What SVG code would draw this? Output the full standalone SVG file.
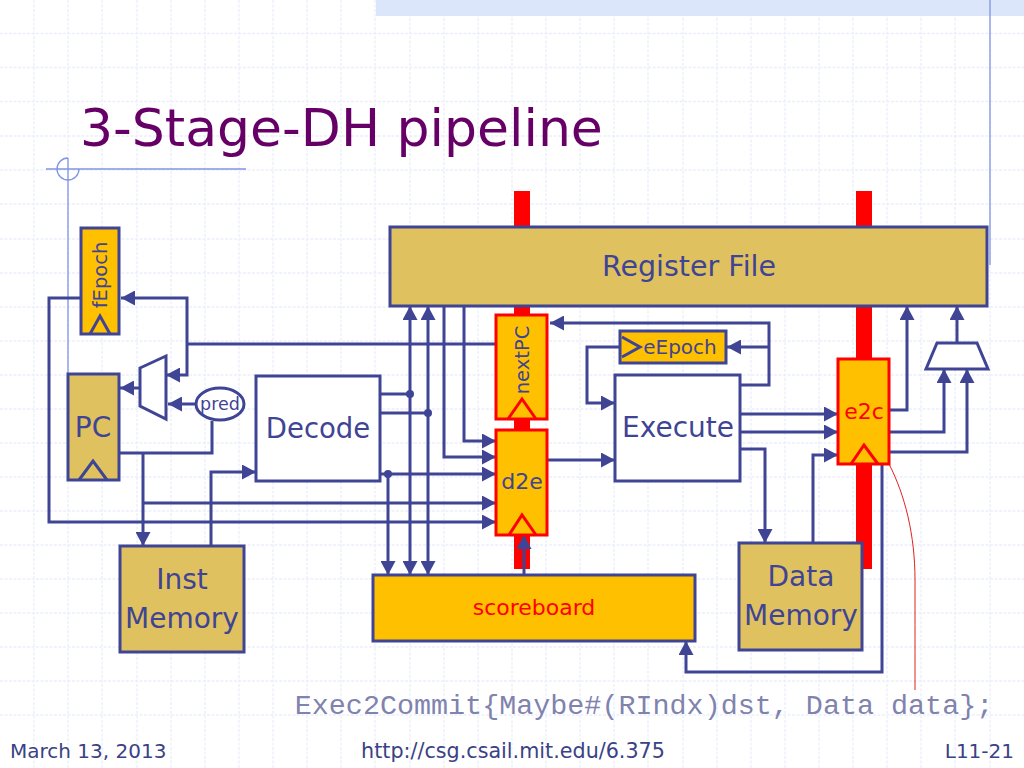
<svg xmlns="http://www.w3.org/2000/svg" width="1024" height="768" viewBox="0 0 1024 768">
<style>
text{font-family:"DejaVu Sans",sans-serif;fill:#3F4494;text-anchor:middle}
.grid line{stroke:#ECEEFB;stroke-width:1.3;stroke-dasharray:3 1.5}
.tpl{stroke:#7F94E4;stroke-width:1.3;fill:none}
.c{fill:none;stroke:#3F4494;stroke-width:3;stroke-linejoin:miter}
.a{marker-end:url(#ah)}
.r{stroke:#FF0000;stroke-width:3;fill:#FFC000}
.o{stroke:#3F4494;stroke-width:3;fill:#FFC000}
.g{stroke:#3F4494;stroke-width:3;fill:#DFC25F}
.w{stroke:#3F4494;stroke-width:3;fill:#fff}
.tri{fill:none;stroke:#3F4494;stroke-width:3}
.trir{fill:none;stroke:#FF0000;stroke-width:3}
.foot{font-size:20px;fill:#3A4285}
</style>
<defs>
<marker id="ah" markerUnits="userSpaceOnUse" markerWidth="15" markerHeight="15" refX="14" refY="7.5" orient="auto"><path d="M0 0L14 7.5L0 15Z" fill="#3F4494"/></marker>
</defs>
<rect width="1024" height="768" fill="#fff"/>
<g class="grid">
<line x1="34" y1="0" x2="34" y2="768"/><line x1="68" y1="0" x2="68" y2="768"/><line x1="102" y1="0" x2="102" y2="768"/><line x1="137" y1="0" x2="137" y2="768"/><line x1="171" y1="0" x2="171" y2="768"/><line x1="205" y1="0" x2="205" y2="768"/><line x1="239" y1="0" x2="239" y2="768"/><line x1="273" y1="0" x2="273" y2="768"/><line x1="307" y1="0" x2="307" y2="768"/><line x1="341" y1="0" x2="341" y2="768"/><line x1="375" y1="0" x2="375" y2="768"/><line x1="410" y1="0" x2="410" y2="768"/><line x1="444" y1="0" x2="444" y2="768"/><line x1="478" y1="0" x2="478" y2="768"/><line x1="512" y1="0" x2="512" y2="768"/><line x1="546" y1="0" x2="546" y2="768"/><line x1="580" y1="0" x2="580" y2="768"/><line x1="614" y1="0" x2="614" y2="768"/><line x1="648" y1="0" x2="648" y2="768"/><line x1="683" y1="0" x2="683" y2="768"/><line x1="717" y1="0" x2="717" y2="768"/><line x1="751" y1="0" x2="751" y2="768"/><line x1="785" y1="0" x2="785" y2="768"/><line x1="819" y1="0" x2="819" y2="768"/><line x1="853" y1="0" x2="853" y2="768"/><line x1="887" y1="0" x2="887" y2="768"/><line x1="921" y1="0" x2="921" y2="768"/><line x1="955" y1="0" x2="955" y2="768"/><line x1="990" y1="0" x2="990" y2="768"/>
<line x1="0" y1="33.5" x2="1024" y2="33.5"/><line x1="0" y1="67.5" x2="1024" y2="67.5"/><line x1="0" y1="101.5" x2="1024" y2="101.5"/><line x1="0" y1="136" x2="1024" y2="136"/><line x1="0" y1="170" x2="1024" y2="170"/><line x1="0" y1="204" x2="1024" y2="204"/><line x1="0" y1="239" x2="1024" y2="239"/><line x1="0" y1="273" x2="1024" y2="273"/><line x1="0" y1="307" x2="1024" y2="307"/><line x1="0" y1="341" x2="1024" y2="341"/><line x1="0" y1="375" x2="1024" y2="375"/><line x1="0" y1="409" x2="1024" y2="409"/><line x1="0" y1="443" x2="1024" y2="443"/><line x1="0" y1="477" x2="1024" y2="477"/><line x1="0" y1="511" x2="1024" y2="511"/><line x1="0" y1="545" x2="1024" y2="545"/><line x1="0" y1="579" x2="1024" y2="579"/><line x1="0" y1="613" x2="1024" y2="613"/><line x1="0" y1="647" x2="1024" y2="647"/><line x1="0" y1="681" x2="1024" y2="681"/><line x1="0" y1="715" x2="1024" y2="715"/>
</g>
<rect x="376" y="0" width="648" height="16" fill="#DCE6FA"/>
<g id="template">
<line class="tpl" x1="46" y1="169" x2="246" y2="169"/>
<line class="tpl" x1="68" y1="158" x2="68" y2="380"/>
<path class="tpl" d="M68 158A11 11 0 1 0 79 169"/>
<line class="tpl" x1="990" y1="0" x2="990" y2="265"/>
</g>
<text x="80" y="146" style="text-anchor:start;fill:#660066;font-size:52px" id="title">3-Stage-DH pipeline</text>
<g id="red-bars"><rect x="514" y="191" width="16" height="378" fill="#FF0000"/><rect x="856" y="191" width="16" height="378" fill="#FF0000"/></g>
<g id="register-file"><rect class="g" x="390" y="227" width="597" height="79"/><text x="689" y="276" font-size="28.500">Register File</text></g>
<g id="connectors">
<path class="c a" d="M81 298H49V522H496"/>
<path class="c a" d="M187 344V298H121"/>
<path class="c a" d="M187 344V375H166"/>
<path class="c" d="M495 344H187"/>
<path class="c a" d="M195 404H168"/>
<path class="c a" d="M140 388H120"/>
<path class="c" d="M119 453H212V421"/>
<path class="c a" d="M143 453V546"/>
<path class="c a" d="M143 503H496"/>
<path class="c a" d="M211 546V472H256"/>
<path class="c" d="M380 394H410M380 413H428"/>
<path class="c a" d="M380 474H496"/>
<path class="c a" d="M388 474V575"/>
<path class="c a" d="M410 440V306"/><path class="c a" d="M410 440V575"/>
<path class="c a" d="M428 440V306"/><path class="c a" d="M428 440V575"/>
<path class="c a" d="M444 306V457H496"/>
<path class="c a" d="M464 306V441H496"/>
<path class="c a" d="M524 575V535"/>
<path class="c a" d="M547 460H615"/>
<path class="c a" d="M740 414H838"/>
<path class="c a" d="M740 432H838"/>
<path class="c a" d="M740 449H765V543"/>
<path class="c a" d="M813 543V455H838"/>
<path class="c a" d="M740 385H769V323H550"/>
<path class="c a" d="M769 347H727"/>
<path class="c a" d="M620 347H587V403H615"/>
<path class="c a" d="M889 410H907V306"/>
<path class="c a" d="M889 432H944V369"/>
<path class="c a" d="M889 452H967V369"/>
<path class="c a" d="M957 343V306"/>
<path class="c a" d="M882 464V672H686V641"/>
<circle cx="410" cy="394" r="4" fill="#3F4494"/><circle cx="428" cy="413" r="4" fill="#3F4494"/><circle cx="388" cy="474" r="4" fill="#3F4494"/>
<path d="M889 464C905 495 915 535 915 580C915 620 915 660 915 690" fill="none" stroke="#E02020" stroke-width="1"/>
</g>
<g id="fEpoch"><rect class="o" x="81" y="228" width="38" height="106"/><path class="tri" d="M90 334L100 316L110 334"/><text transform="translate(107,275) rotate(-90)" font-size="19.500">fEpoch</text></g>
<g id="PC"><rect class="g" x="68" y="374" width="51" height="106"/><path class="tri" d="M79 480L93 461L107 480"/><text x="93" y="437" font-size="28">PC</text></g>
<g id="mux-pc"><path class="w" d="M140 368L166 356V419L140 406Z"/></g>
<g id="pred"><ellipse class="w" cx="220" cy="404" rx="24" ry="16"/><text x="220" y="410" font-size="17.500">pred</text></g>
<g id="decode"><rect class="w" x="256" y="376" width="124" height="105"/><text x="318" y="438" font-size="27.500">Decode</text></g>
<g id="nextPC"><rect class="r" x="496" y="315" width="51" height="104"/><path class="trir" d="M508 419L522 399L536 419"/><text transform="translate(529,360) rotate(-90)" font-size="19.500">nextPC</text></g>
<g id="d2e"><rect class="r" x="496" y="430" width="51" height="105"/><path class="trir" d="M509 535L522 515L536 535"/><text x="522" y="489" font-size="22">d2e</text></g>
<g id="eEpoch"><rect class="o" x="620" y="331" width="106" height="32"/><path class="tri" d="M622 337L640 347L622 357"/><text x="680" y="354" font-size="20">eEpoch</text></g>
<g id="execute"><rect class="w" x="615" y="375" width="125" height="106"/><text x="678" y="437" font-size="28">Execute</text></g>
<g id="e2c"><rect class="r" x="838" y="359" width="51" height="105"/><path class="trir" d="M851 464L864 445L878 464"/><text x="864" y="419" font-size="22" style="fill:#FF0000">e2c</text></g>
<g id="inst-memory"><rect class="g" x="120" y="546" width="124" height="106"/><text x="182" y="589" font-size="28">Inst</text><text x="182" y="628" font-size="28">Memory</text></g>
<g id="scoreboard"><rect class="o" x="373" y="575" width="322" height="66"/><text x="534" y="615" font-size="22" style="fill:#FF0000">scoreboard</text></g>
<g id="data-memory"><rect class="g" x="739" y="543" width="123" height="107"/><text x="801" y="586" font-size="28">Data</text><text x="801" y="625" font-size="28">Memory</text></g>
<g id="mux-rf"><path class="w" d="M937 343H977L988 369H926Z"/></g>
<text x="644" y="714" style="font-family:'Liberation Mono',monospace;font-size:28.400px;fill:#7F83AE">Exec2Commit{Maybe#(RIndx)dst, Data data};</text>
<g id="footer"><text class="foot" x="10" y="758" style="text-anchor:start">March 13, 2013</text><text class="foot" x="513" y="758" style="font-size:20.700px">http://csg.csail.mit.edu/6.375</text><text class="foot" x="1014" y="758" style="text-anchor:end">L11-21</text></g>
</svg>
